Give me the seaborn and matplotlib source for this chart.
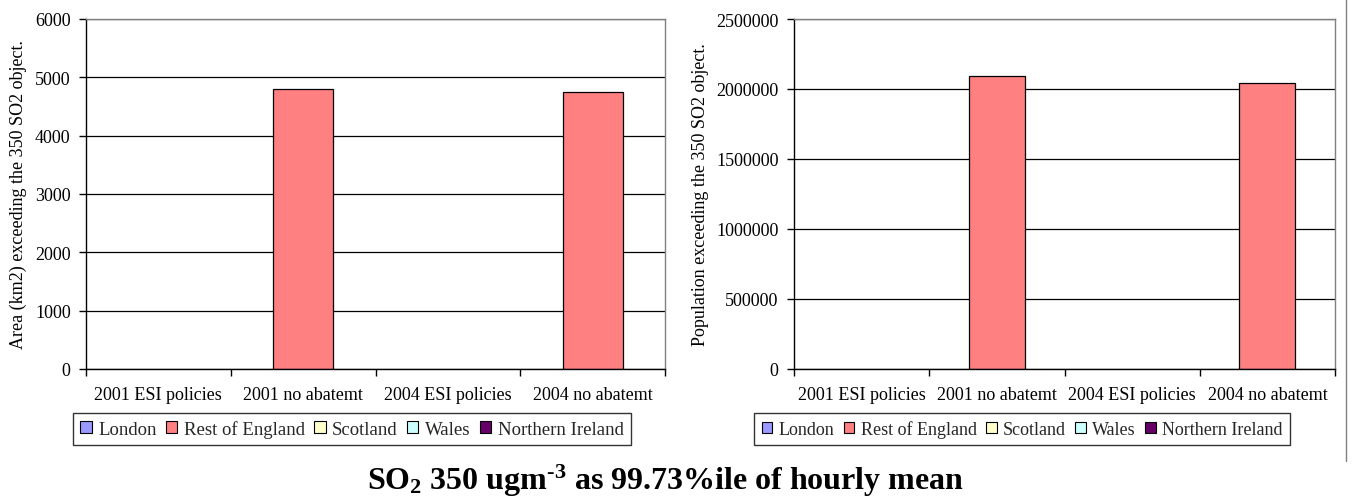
import matplotlib
matplotlib.use("Agg")
import matplotlib.pyplot as plt
import seaborn as sns
import pandas as pd
import numpy as np
from matplotlib.lines import Line2D
from matplotlib.ticker import FuncFormatter, FixedLocator

categories = ["2001 ESI policies", "2001 no abatemt", "2004 ESI policies", "2004 no abatemt"]
regions = ["London", "Rest of England", "Scotland", "Wales", "Northern Ireland"]
colors = ["#9999FF", "#FF8080", "#FFFFCC", "#CCFFFF", "#660066"]

area_london = [0, 0, 0, 0]
area_rest = [0, 4800, 0, 4750]
area_scotland = [0, 0, 0, 0]
area_wales = [0, 0, 0, 0]
area_ni = [0, 0, 0, 0]

pop_london = [0, 0, 0, 0]
pop_rest = [0, 2090000, 0, 2043000]
pop_scotland = [0, 0, 0, 0]
pop_wales = [0, 0, 0, 0]
pop_ni = [0, 0, 0, 0]

title = r"SO$_\mathbf{2}$ 350 ugm$^{\mathbf{\text{-}3}}$ as 99.73%ile of hourly mean"
ylabel_left = "Area (km2) exceeding the 350 SO2 object."
ylabel_right = "Population exceeding the 350 SO2 object."


def long_df(series):
    rows = []
    for reg, vals in zip(regions, series):
        for cat, v in zip(categories, vals):
            rows.append({"category": cat, "region": reg, "value": v})
    return pd.DataFrame(rows)


df_area = long_df([area_london, area_rest, area_scotland, area_wales, area_ni])
df_pop = long_df([pop_london, pop_rest, pop_scotland, pop_wales, pop_ni])

sns.set_theme(style="white")
plt.rcParams["font.family"] = ["Liberation Serif", "DejaVu Serif"]
plt.rcParams["mathtext.fontset"] = "custom"
plt.rcParams["mathtext.rm"] = "Liberation Serif:bold"
plt.rcParams["mathtext.bf"] = "Liberation Serif:bold"
plt.rcParams["mathtext.it"] = "Liberation Serif:italic"

W, H = 1355, 502
fig = plt.figure(figsize=(W / 100, H / 100), dpi=100)
fig.patch.set_facecolor("white")

FS = 13


def make_ax(x0, x1, df, ymax, ystep, ylabel, label_x, legend_cx, legend_fs):
    ax = fig.add_axes([x0 / W, 1 - 370 / H, (x1 - x0) / W, 350 / H])
    sns.barplot(data=df, x="category", y="value", hue="region", hue_order=regions,
                order=categories, palette=colors, dodge=False, width=0.415,
                edgecolor="black", linewidth=0.9, ax=ax, errorbar=None,
                saturation=1)
    for p in ax.patches:
        if p.get_height() == 0:
            p.set_visible(False)
    ax.set_xlim(-0.5, 3.5)
    ax.set_ylim(0, ymax)
    ax.set_axisbelow(True)
    ax.yaxis.grid(True, color="black", linewidth=0.9)
    ax.xaxis.grid(False)
    for s in ["top", "right"]:
        ax.spines[s].set_color("#808080")
        ax.spines[s].set_linewidth(1.0)
    for s in ["left", "bottom"]:
        ax.spines[s].set_color("black")
        ax.spines[s].set_linewidth(1.0)
    ax.set_yticks(np.arange(0, ymax + 1, ystep))
    ax.yaxis.set_major_formatter(FuncFormatter(lambda v, p: f"{v:.0f}"))
    ax.tick_params(axis="y", which="major", direction="out", length=5, width=1,
                   color="black", pad=6, labelsize=FS, labelcolor="black", left=True)
    ax.xaxis.set_major_locator(FixedLocator([-0.5, 0.5, 1.5, 2.5, 3.5]))
    ax.xaxis.set_minor_locator(FixedLocator([0, 1, 2, 3]))
    ax.set_xticklabels([], minor=False)
    ax.set_xticklabels(categories, minor=True)
    ax.tick_params(axis="x", which="major", direction="out", length=5, width=1,
                   color="black", bottom=True)
    ax.tick_params(axis="x", which="minor", length=0, pad=12, labelsize=FS,
                   labelcolor="black", bottom=True)
    ax.set_xlabel("")
    ax.set_ylabel(ylabel, fontsize=FS, color="black")
    ax.yaxis.set_label_coords((label_x - x0) / (x1 - x0), 0.5)
    sns.move_legend(ax, loc="center", bbox_to_anchor=(legend_cx / W, 1 - 430 / H),
                    bbox_transform=fig.transFigure, ncol=5, title=None, frameon=True,
                    fontsize=legend_fs, handlelength=0.6, handleheight=0.6,
                    handletextpad=0.35, columnspacing=0.5, borderpad=0.4,
                    fancybox=False)
    leg = ax.get_legend()
    leg.get_frame().set_edgecolor("black")
    leg.get_frame().set_linewidth(1.0)
    for h in leg.legend_handles:
        h.set_edgecolor("black")
        h.set_linewidth(0.8)
        h.set_visible(True)
    return ax


make_ax(86, 665, df_area, 6000, 1000, ylabel_left, 27, 352, 13.5)
make_ax(794, 1335, df_pop, 2500000, 500000, ylabel_right, 709, 1022, 13)

fig.text(665 / W, 1 - 481 / H, title, ha="center", va="center", fontsize=23,
         fontweight="bold", color="black")

fig.add_artist(Line2D([1346 / W, 1346 / W], [1, 1 - 462 / H], transform=fig.transFigure,
                      color="#808080", linewidth=1.0))

fig.savefig("out.png", dpi=100, facecolor="white")
